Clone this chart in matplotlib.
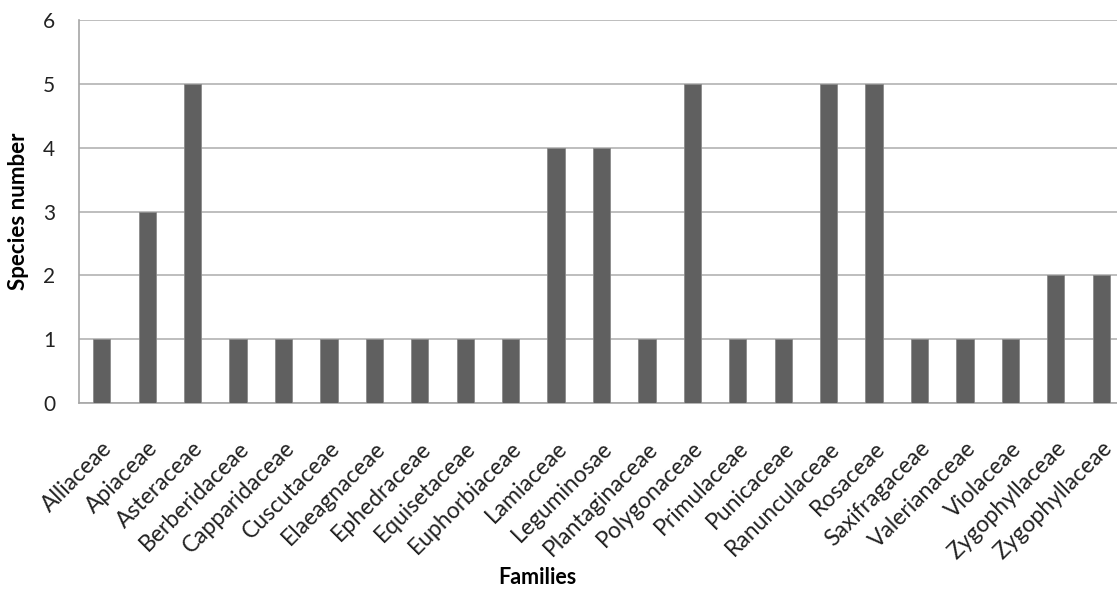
import matplotlib.pyplot as plt
import numpy as np

families = ['Alliaceae', 'Apiaceae', 'Asteraceae', 'Berberidaceae', 'Capparidaceae',
            'Cuscutaceae', 'Elaeagnaceae', 'Ephedraceae', 'Equisetaceae', 'Euphorbiaceae',
            'Lamiaceae', 'Leguminosae', 'Plantaginaceae', 'Polygonaceae', 'Primulaceae',
            'Punicaceae', 'Ranunculaceae', 'Rosaceae', 'Saxifragaceae', 'Valerianaceae',
            'Violaceae', 'Zygophyllaceae', 'Zygophyllaceae']
species = [1, 3, 5, 1, 1, 1, 1, 1, 1, 1, 4, 4, 1, 5, 1, 1, 5, 5, 1, 1, 1, 2, 2]
yticks = [0, 1, 2, 3, 4, 5, 6]

plt.rcParams['font.family'] = ['Lato', 'DejaVu Sans']

W, H = 1117, 594
fig = plt.figure(figsize=(W / 100, H / 100), dpi=100)
# plot area runs a bit past the right edge of the image, as in the reference
ax = fig.add_axes([79 / W, 1 - 403 / H, (1124 - 79) / W, (403 - 20) / H])

x = np.arange(len(families))
ax.bar(x, species, width=0.38, color='#606060', edgecolor='#8a8a8a', linewidth=0.6, zorder=3)

ax.set_xlim(-0.5, len(families) - 0.5)
ax.set_ylim(0, 6)
ax.set_yticks(yticks)
ax.set_yticklabels([str(v) for v in yticks], fontsize=15, color='#222222')
ax.yaxis.grid(True, color='#b3b3b3', linewidth=1.2, zorder=0)
ax.set_axisbelow(True)

ax.set_xticks(x)
ax.set_xticklabels(families, rotation=45, ha='right', rotation_mode='anchor',
                   fontsize=16.5, color='#222222')
ax.tick_params(axis='x', length=0, pad=25)
ax.tick_params(axis='y', length=0, pad=17)

for s in ['top', 'right']:
    ax.spines[s].set_visible(False)
for s in ['left', 'bottom']:
    ax.spines[s].set_color('#a6a6a6')
    ax.spines[s].set_linewidth(1.2)

ax.set_ylabel('Species number', fontsize=16, fontweight='bold', labelpad=10)
fig.text(537 / W, 1 - 578 / H, 'Families', fontsize=15.5, fontweight='bold', ha='center', va='center')

fig.savefig('out.png', dpi=100)
